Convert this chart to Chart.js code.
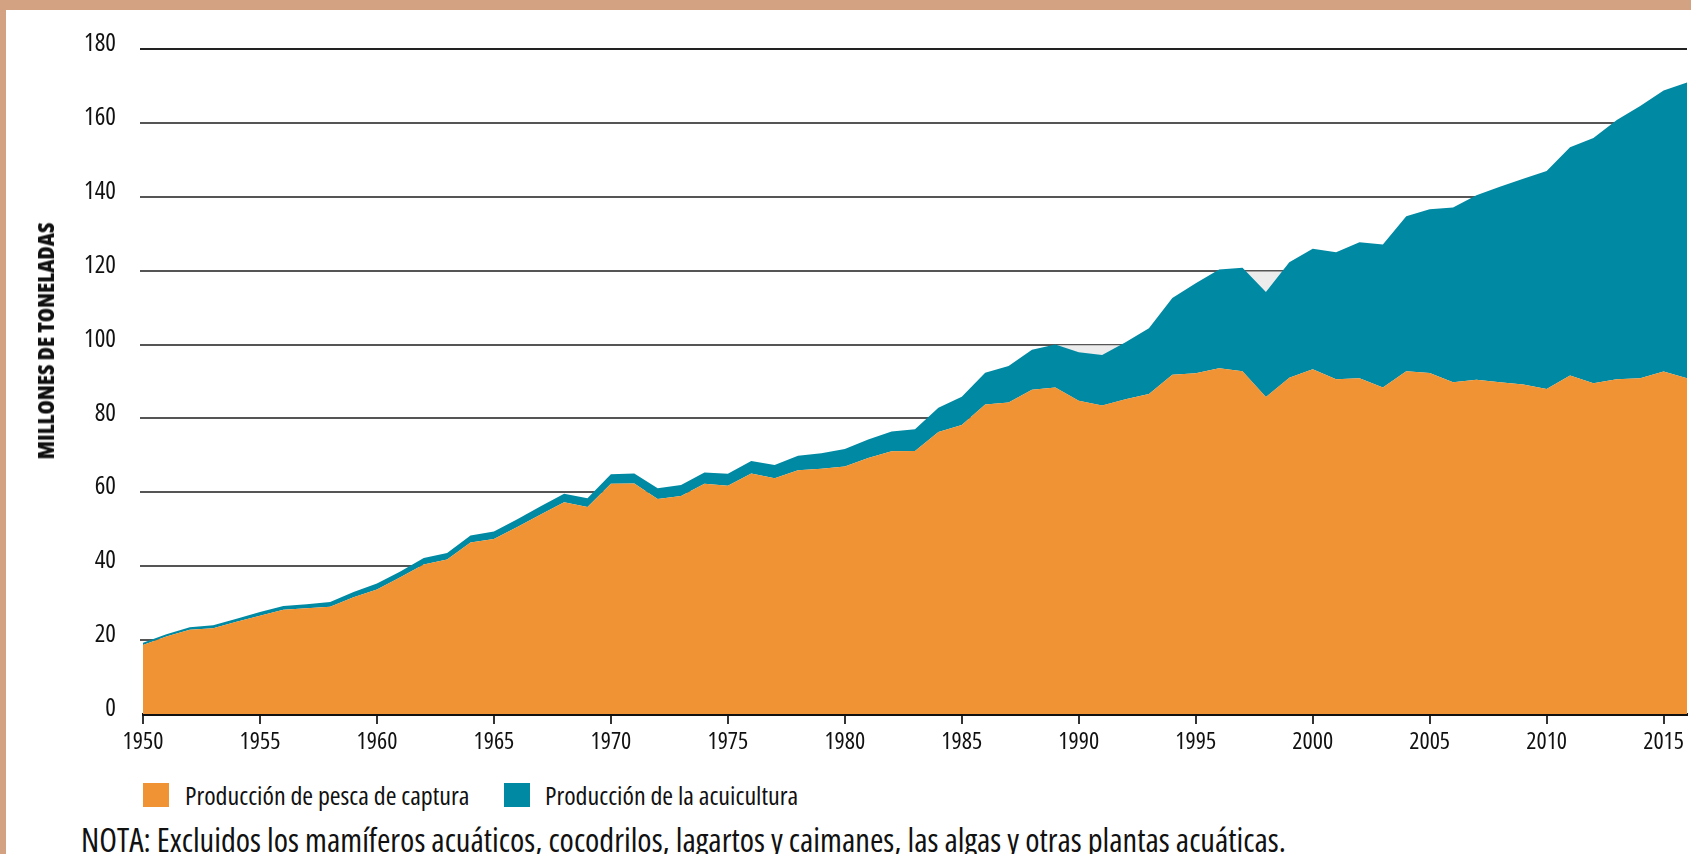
<!DOCTYPE html>
<html>
<head>
<meta charset="utf-8">
<script src="https://cdn.jsdelivr.net/npm/chart.js@4.4.1/dist/chart.umd.min.js"></script>
<style>
  body { margin:0; width:1691px; height:854px; overflow:hidden; background:#d3a283;
         font-family:"Open Sans",sans-serif; font-stretch:75%; color:#111; }
  #panel { position:absolute; left:6px; top:10px; width:1685px; height:844px; background:#fff; }
  #wrap { position:absolute; left:0; top:0; width:1685px; height:760px; }
  #ytitle { position:absolute; left:39px; top:331px; transform:translate(-50%,-50%) rotate(-90deg);
            font-weight:800; font-size:23px; white-space:nowrap; }
  .box { position:absolute; top:773px; width:26px; height:24px; }
  .txt { position:absolute; top:768px; font-size:26px; white-space:nowrap; line-height:34px; }
  #nota { position:absolute; left:75px; top:810px; font-size:32.5px; white-space:nowrap; line-height:40px; }
</style>
</head>
<body>
<div id="panel">
  <div id="wrap"><canvas id="chart"></canvas></div>
  <div id="ytitle">MILLONES DE TONELADAS</div>
  <div class="box" id="b1" style="left:137px"></div><div class="txt" id="t1" style="left:179px"></div>
  <div class="box" id="b2" style="left:498px"></div><div class="txt" id="t2" style="left:539px"></div>
  <div id="nota">NOTA: Excluidos los mamíferos acuáticos, cocodrilos, lagartos y caimanes, las algas y otras plantas acuáticas.</div>
</div>
<script>
// años 1950-2016
const years = [];
for (let y = 1950; y <= 2016; y++) years.push(String(y));

// producción de pesca de captura (millones de toneladas)
const captura = [
  18.7, 21.0, 22.8, 23.2, 25.0, 26.6, 28.2, 28.6, 29.0, 31.6,
  33.7, 37.0, 40.5, 41.8, 46.4, 47.4, 50.6, 54.0, 57.3, 56.0,
  62.3, 62.4, 58.2, 59.0, 62.3, 61.8, 65.1, 63.8, 66.0, 66.4,
  67.0, 69.3, 71.1, 71.2, 76.3, 78.2, 83.8, 84.3, 87.8, 88.4,
  84.8, 83.5, 85.2, 86.6, 91.8, 92.2, 93.6, 92.8, 85.8, 91.0,
  93.3, 90.6, 90.9, 88.4, 92.8, 92.3, 89.8, 90.5, 89.8, 89.2,
  88.0, 91.6, 89.5, 90.6, 90.9, 92.7, 90.9
];
// producción de la acuicultura (millones de toneladas)
const acuicultura = [
  0.6, 0.6, 0.7, 0.8, 0.8, 1.0, 1.0, 1.1, 1.3, 1.4,
  1.6, 1.6, 1.7, 1.8, 1.9, 2.0, 2.1, 2.2, 2.3, 2.4,
  2.6, 2.7, 2.9, 3.0, 3.1, 3.2, 3.4, 3.6, 3.9, 4.2,
  4.7, 5.0, 5.4, 5.9, 6.6, 7.7, 8.6, 9.9, 10.8, 11.6,
  13.1, 13.7, 15.4, 17.8, 20.8, 24.4, 26.7, 28.0, 28.4, 31.3,
  32.6, 34.4, 36.8, 38.7, 41.9, 44.3, 47.3, 49.9, 52.9, 55.7,
  59.0, 61.8, 66.4, 70.2, 73.7, 76.1, 80.0
];
// sombra gris bajo las líneas de 100 y 120 (1989-1992, 1997-1999)
const sombra = years.map(y => (y >= 1989 && y <= 1992 ? 99.8 : (y >= 1997 && y <= 1999 ? 119.8 : null)));
const yTicks = [0, 20, 40, 60, 80, 100, 120, 140, 160, 180];

const FONT = "'Open Sans', sans-serif";
const naranja = '#ef9334';
const azul = '#0089a3';
const gris = '#ececec';

new Chart(document.getElementById('chart'), {
  type: 'line',
  data: {
    labels: years,
    datasets: [
      { label: 'Producción de pesca de captura', data: captura, backgroundColor: naranja,
        borderWidth: 0, pointRadius: 0, fill: 'origin', tension: 0, stack: 'prod', order: 1 },
      { label: 'Producción de la acuicultura', data: acuicultura, backgroundColor: azul,
        borderWidth: 0, pointRadius: 0, fill: '-1', tension: 0, stack: 'prod', order: 1 },
      { label: 'sombra', data: sombra, backgroundColor: gris,
        borderWidth: 0, pointRadius: 0, fill: 'origin', tension: 0, stack: 'sombra', order: 5 }
    ]
  },
  options: {
    responsive: true,
    maintainAspectRatio: false,
    animation: false,
    layout: { padding: { top: 38, right: 2, left: 0, bottom: 0 } },
    plugins: { legend: { display: false }, tooltip: { enabled: false } },
    scales: {
      x: {
        stacked: true,
        offset: false,
        afterFit: s => { s.height = 56; },
        border: { display: true, color: '#111', width: 3 },
        grid: {
          drawOnChartArea: false, drawTicks: true, tickLength: 10, lineWidth: 2,
          color: c => (Number(years[c.index]) % 5 === 0 ? '#333' : 'rgba(0,0,0,0)')
        },
        ticks: {
          autoSkip: false, maxRotation: 0, padding: 4, color: '#111',
          font: { family: FONT, size: 24, weight: 'condensed' },
          callback: (v, i) => (Number(years[i]) % 5 === 0 ? years[i] : '')
        }
      },
      y: {
        stacked: true,
        min: 0, max: 180,
        afterFit: s => { s.width = 137; },
        afterBuildTicks: s => { s.ticks = yTicks.map(v => ({ value: v })); },
        border: { display: false },
        grid: {
          drawTicks: true, tickLength: 3, lineWidth: 2,
          color: c => (c.tick && c.tick.value === 0 ? 'rgba(0,0,0,0)' : (c.tick && c.tick.value === 180 ? '#222' : '#555'))
        },
        ticks: { padding: 24, color: '#111', labelOffset: -5, font: { family: FONT, size: 25, weight: 'condensed' } }
      }
    }
  }
});

// leyenda en HTML
document.getElementById('b1').style.background = naranja;
document.getElementById('b2').style.background = azul;
document.getElementById('t1').textContent = 'Producción de pesca de captura';
document.getElementById('t2').textContent = 'Producción de la acuicultura';
</script>
</body>
</html>
